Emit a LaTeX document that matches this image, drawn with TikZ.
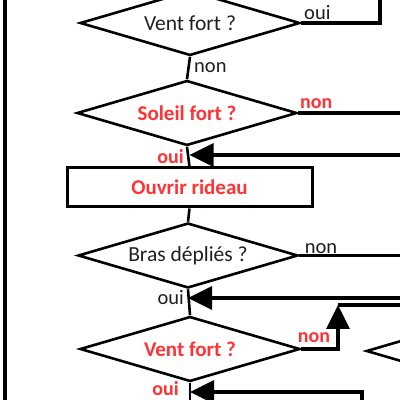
\documentclass[tikz,border=0pt]{standalone}
\usepackage{fontspec}
\setmainfont{Carlito}
\usepackage{tikz}
\usetikzlibrary{shapes.geometric,arrows.meta,positioning,calc}
\definecolor{alertred}{RGB}{255,51,51}
\definecolor{inktext}{RGB}{31,31,31}
\tikzset{
    decision/.style={
        draw,
        diamond,
        aspect=3.4,
        line width=2.6pt,
        minimum width=220pt,
        minimum height=65pt,
        inner sep=0pt,
        text=inktext,
        font=\fontsize{21.5}{25}\selectfont
    },
    decisionred/.style={
        decision,
        text=alertred,
        font=\fontsize{21}{25}\selectfont\bfseries
    },
    action/.style={
        draw,
        rectangle,
        line width=3pt,
        minimum width=245pt,
        minimum height=39pt,
        inner sep=0pt,
        text=alertred,
        font=\fontsize{21}{25}\selectfont\bfseries
    },
    flowline/.style={
        draw,
        line width=2.6pt
    },
    wideline/.style={
        draw,
        line width=3.4pt
    },
    flowarrow/.style={
        draw,
        line width=3.4pt,
        -{Triangle[length=24pt,width=23pt]}
    },
    answer/.style={
        inner sep=1pt,
        text=inktext,
        font=\fontsize{20.5}{24}\selectfont
    },
    answerred/.style={
        answer,
        text=alertred,
        font=\fontsize{20}{24}\selectfont\bfseries
    }
}
\begin{document}
\begin{tikzpicture}[x=1pt,y=1pt]
        \useasboundingbox (0,0) rectangle (400,400);
        \clip (0,0) rectangle (400,400);

        \node[decision] (wind) at (190,377) {Vent fort ?};
        \node[decisionred] (sun) at (187,287) {Soleil fort ?};
        \node[action] (open) at (189.5,212.5) {Ouvrir rideau};
        \node[decision] (arms) at (188,144.5) {Bras dépliés ?};
        \node[decisionred] (windb) at (190,51) {Vent fort ?};
        \node[decision, anchor=west] (side) at (365,49) {};

        \coordinate (windout) at (380,420);
        \coordinate (sunout) at (420,287);
        \coordinate (sunback) at (420,245);
        \coordinate (armsout) at (420,144.5);
        \coordinate (armsback) at (420,102);
        \coordinate (join) at (338,95);
        \coordinate (joinout) at (420,95);
        \coordinate (lowback) at (362,-20);
        \coordinate (lowturn) at (362,8);
        \coordinate (windbout) at (190,-20);
        \coordinate (railtop) at (5,420);
        \coordinate (railbot) at (5,-20);

        \path[wideline, line width=4pt] (railbot) -- (railtop);

        \path[wideline] (wind.east) -| (windout);
        \path[flowline] (wind.south) -- (sun.north);
        \path[wideline] (sun.east) -- (sunout);
        \path[flowline] (sun.south) -- (open.north);
        \path[flowarrow] (sunback) -- (sunback -| open.north);
        \path[flowline] (open.south) -- (arms.north);
        \path[wideline] (arms.east) -- (armsout);
        \path[flowline] (arms.south) -- (windb.north);
        \path[flowarrow] (armsback) -- (armsback -| arms.south);
        \path[flowarrow] (windb.east) -| (join);
        \path[wideline] (join) -- (joinout);
        \path[flowline] (windb.south) -- (windbout);
        \path[flowarrow] (lowback) -- (lowturn) -- (lowturn -| windb.south);

        \node[answer, anchor=south west] at (303,379) {oui};
        \node[answer, anchor=west] at (193,332) {non};
        \node[answerred, anchor=south west] at (299,290) {non};
        \node[answerred, anchor=east] at (185,243) {oui};
        \node[answer] at (321,151) {non};
        \node[answer, anchor=east] at (185,102) {oui};
        \node[answerred] at (314,62) {non};
        \node[answerred, anchor=east] at (180,11) {oui};
    \end{tikzpicture}
\end{document}
